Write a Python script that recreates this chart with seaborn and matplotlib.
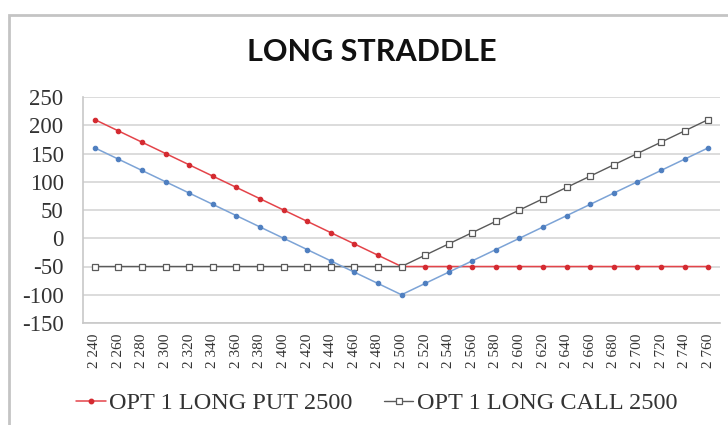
import matplotlib
matplotlib.use("Agg")
import matplotlib.pyplot as plt
from matplotlib.patches import Rectangle
from matplotlib.lines import Line2D
import seaborn as sns
import pandas as pd

# Underlying price levels at expiry
strikes = ["2 240", "2 260", "2 280", "2 300", "2 320", "2 340", "2 360", "2 380", "2 400",
           "2 420", "2 440", "2 460", "2 480", "2 500", "2 520", "2 540", "2 560", "2 580",
           "2 600", "2 620", "2 640", "2 660", "2 680", "2 700", "2 720", "2 740", "2 760"]

# Payoff of each leg and of the combined position
long_put = [210, 190, 170, 150, 130, 110, 90, 70, 50, 30, 10, -10, -30, -50,
            -50, -50, -50, -50, -50, -50, -50, -50, -50, -50, -50, -50, -50]
long_call = [-50, -50, -50, -50, -50, -50, -50, -50, -50, -50, -50, -50, -50, -50,
             -30, -10, 10, 30, 50, 70, 90, 110, 130, 150, 170, 190, 210]
straddle = [160, 140, 120, 100, 80, 60, 40, 20, 0, -20, -40, -60, -80, -100,
            -80, -60, -40, -20, 0, 20, 40, 60, 80, 100, 120, 140, 160]

put_label = "OPT 1 LONG PUT 2500"
call_label = "OPT 1 LONG CALL 2500"
y_ticks = [-150, -100, -50, 0, 50, 100, 150, 200, 250]

df = pd.DataFrame({"strike": strikes, "put": long_put, "call": long_call, "straddle": straddle})

sns.set_style("white")
serif = ["Liberation Serif", "DejaVu Serif"]

fig = plt.figure(figsize=(7.28, 4.25), dpi=100)
ax = fig.add_axes([83 / 728, 1 - 323 / 425, (720 - 83) / 728, (323 - 97) / 425])

red, red_m = "#E4444A", "#D42A30"
blue, blue_m = "#7CA3D6", "#4F7FC0"
gray = "#5A5A5A"

sns.pointplot(data=df, x="strike", y="put", ax=ax, color=red, marker="o",
              markersize=3.2, markerfacecolor=red_m, markeredgecolor=red_m,
              linewidth=1.1, errorbar=None)
sns.pointplot(data=df, x="strike", y="call", ax=ax, color=gray, marker="s",
              markersize=5, markerfacecolor="white", markeredgecolor=gray,
              markeredgewidth=0.9, linewidth=1.0, errorbar=None)
sns.pointplot(data=df, x="strike", y="straddle", ax=ax, color=blue, marker="o",
              markersize=3.2, markerfacecolor=blue_m, markeredgecolor=blue_m,
              linewidth=1.1, errorbar=None)

ax.set_xlim(-0.5, len(strikes) - 0.5)
ax.set_ylim(-150, 250)
ax.set_yticks(y_ticks)
ax.set_yticklabels([str(v) for v in y_ticks], fontfamily=serif, fontsize=16.5, color="#333333")
ax.set_xticks(range(len(strikes)))
ax.set_xticklabels(strikes, rotation=90, fontfamily=serif, fontsize=11, color="#333333")
ax.tick_params(axis="y", length=0, pad=14)
ax.tick_params(axis="x", length=0, pad=8)
ax.set_xlabel("")
ax.set_ylabel("")

ax.grid(axis="y", color="#D6D6D6", linewidth=1.2)
ax.set_axisbelow(True)
for side in ("top", "right"):
    ax.spines[side].set_visible(False)
for side in ("left", "bottom"):
    ax.spines[side].set_color("#C8C8C8")
    ax.spines[side].set_linewidth(1.2)

handles = [
    Line2D([], [], color=red, marker="o", markersize=3.2, markerfacecolor=red_m,
           markeredgecolor=red_m, linewidth=1.1),
    Line2D([], [], color=gray, marker="s", markersize=5, markerfacecolor="white",
           markeredgecolor=gray, markeredgewidth=0.9, linewidth=1.0),
]
fig.legend(handles, [put_label, call_label], loc="center", bbox_to_anchor=(377 / 728, 1 - 403 / 425),
           ncol=2, frameon=False, prop={"family": serif, "size": 17.5},
           handlelength=1.2, handletextpad=0.15, columnspacing=1.3, labelcolor="#333333")

fig.text(372 / 728, 1 - 52 / 425, "LONG STRADDLE", ha="center", va="center",
         fontfamily=["Lato", "DejaVu Sans"], fontweight="bold", fontsize=22, color="#111111")

# Chart-area frame
fig.patches.append(Rectangle((9 / 728, -0.2), 1.2, 1.2 - 15 / 425, transform=fig.transFigure,
                             fill=False, edgecolor="#C4C4C4", linewidth=2.0, clip_on=False))

fig.savefig("out.png", dpi=100)
